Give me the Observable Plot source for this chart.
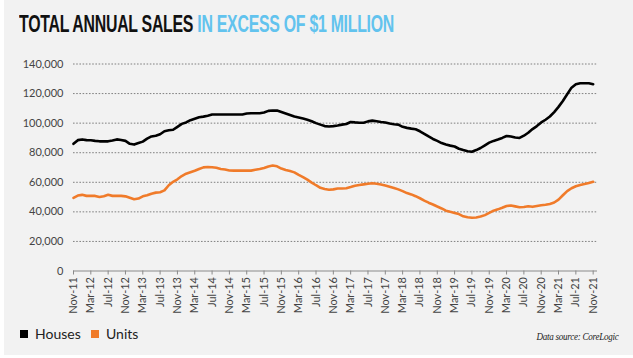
<!DOCTYPE html>
<html><head><meta charset="utf-8">
<script src="https://cdn.jsdelivr.net/npm/d3@7"></script>
<script src="https://cdn.jsdelivr.net/npm/@observablehq/plot@0.6"></script>
<style>
html,body{margin:0;padding:0;background:#fff;width:633px;height:358px;overflow:hidden;}
#panel{position:absolute;left:4px;top:0;width:629px;height:355px;background:#f2f2f2;}
#title{position:absolute;left:19px;top:12.5px;font-family:"Liberation Sans Narrow","Liberation Sans",sans-serif;font-weight:bold;font-size:23px;line-height:1;white-space:nowrap;transform-origin:0 0;letter-spacing:-0.4px;color:#111;}
#title .hl{color:#62c3ee;}
#chart{position:absolute;left:0;top:40px;}
#legend{position:absolute;left:20px;top:326.9px;font-family:Lato,sans-serif;font-size:14px;line-height:1;color:#222;white-space:nowrap;}
.sw{position:absolute;top:3.1px;width:8px;height:8px;}
.lt{position:absolute;top:0;}
#source{position:absolute;right:15px;top:332px;font-family:"Liberation Serif",serif;font-style:italic;font-size:10px;line-height:1;color:#222;letter-spacing:-0.3px;white-space:nowrap;}
</style></head>
<body>
<div id="panel"></div>
<div id="title"><span>TOTAL ANNUAL SALES</span> <span class="hl">IN EXCESS OF $1 MILLION</span></div>
<div id="chart"></div>
<div id="legend"></div>
<div id="source">Data source: CoreLogic</div>
<script>
const seriesNames = ["Houses", "Units"];
const seriesColors = ["#000000", "#f07b2a"];
const tickLabels = ["Nov-11","Mar-12","Jul-12","Nov-12","Mar-13","Jul-13","Nov-13","Mar-14","Jul-14","Nov-14","Mar-15","Jul-15","Nov-15","Mar-16","Jul-16","Nov-16","Mar-17","Jul-17","Nov-17","Mar-18","Jul-18","Nov-18","Mar-19","Jul-19","Nov-19","Mar-20","Jul-20","Nov-20","Mar-21","Jul-21","Nov-21"];
const yTicks = [0,20000,40000,60000,80000,100000,120000,140000];
const houses = [
86000,88500,89000,88500,88400,88000,87700,87700,87700,88200,
89000,88600,88000,86000,85500,86500,87500,89500,91000,91500,
92500,94500,95200,95500,97500,99500,100500,102000,103000,104000,
104400,105000,105800,105800,105800,105800,105800,105800,105800,105800,
106500,106700,106700,106700,107200,108300,108500,108500,107500,106500,
105500,104500,103800,103100,102300,101300,100000,99000,98000,97700,
98000,98400,99000,99400,100800,100500,100300,100300,101200,101700,
101300,100800,100400,99700,99300,99000,97500,96800,96300,95900,
94500,92800,91000,89300,88000,86500,85500,84800,84200,82700,
81800,81000,80600,81800,83200,85000,86800,88000,88900,90000,
91300,91000,90300,90000,91500,93500,96000,98000,100500,102300,
104500,107500,111000,115000,119500,124000,126300,127000,127000,127000,
126300];
const units = [
49500,51000,51500,50800,50800,50800,50000,50500,51500,50800,
50800,50800,50500,49500,48500,49000,50500,51200,52300,53000,
53300,54500,58000,60300,62000,64200,65800,66800,67800,69000,
70100,70300,70200,69800,69000,68600,68000,67900,67900,67900,
67900,67900,68500,69000,69700,70700,71300,70800,69300,68300,
67600,66700,65000,63500,61800,59800,58000,56300,55500,55000,
55200,55800,55800,56000,56800,57700,58200,58600,59000,59400,
59000,58500,57800,57000,56200,55200,54000,52700,51800,50600,
49200,47600,46200,45000,43600,42300,40800,40000,39300,38500,
37000,36300,36000,36200,36800,37800,39300,40800,41700,42800,
44000,44300,43700,43100,43300,43800,43400,44000,44500,44800,
45300,46300,48300,51200,54000,56000,57300,58200,58800,59500,
60300];

const rows = [
  ...houses.map((v, i) => ({i, v, s: seriesNames[0]})),
  ...units.map((v, i) => ({i, v, s: seriesNames[1]}))
];
const xTicks = tickLabels.map((_, k) => k * 4);

const chart = Plot.plot({
  width: 633, height: 275,
  marginLeft: 73, marginRight: 36, marginTop: 23.5, marginBottom: 44.5,
  style: {background: "transparent", fontFamily: "Lato, sans-serif", fontSize: "11px", color: "#444"},
  x: {domain: [0, 121]},
  y: {domain: [0, 140000]},
  color: {domain: seriesNames, range: seriesColors},
  marks: [
    Plot.ruleY(yTicks.filter(d => d > 0), {stroke: "#808080", strokeDasharray: "1.6,1.6", strokeWidth: 1}),
    Plot.axisY(yTicks, {tickSize: 0, tickPadding: 10, tickFormat: d => d3.format(",")(d), fill: "#444", label: null}),
    Plot.ruleY([0], {stroke: "#8a8a8a", strokeWidth: 1}),
    Plot.axisX(xTicks, {tickFormat: d => tickLabels[d / 4], tickRotate: -90, tickSize: 4, tickPadding: 2, stroke: "#8a8a8a", fill: "#444", label: null}),
    Plot.line(rows, {x: "i", y: "v", z: "s", stroke: "s", strokeWidth: 2.6, curve: "linear"})
  ]
});
document.getElementById("chart").appendChild(chart);

// legend
const lg = document.getElementById("legend");
const swPos = [0, 71];
const txPos = [15, 86];
seriesNames.forEach((n, k) => {
  const sw = document.createElement("span");
  sw.className = "sw"; sw.style.left = swPos[k] + "px"; sw.style.background = seriesColors[k];
  lg.appendChild(sw);
  const t = document.createElement("span");
  t.className = "lt"; t.style.left = txPos[k] + "px"; t.textContent = n;
  lg.appendChild(t);
});

// fit title width
const title = document.getElementById("title");
const w = title.getBoundingClientRect().width;
title.style.transform = `scaleX(${375 / w})`;
const src = document.getElementById("source");
const sw2 = src.getBoundingClientRect().width;
src.style.transformOrigin = "100% 0";
src.style.transform = `scaleX(${82 / sw2})`;
</script>
</body></html>
